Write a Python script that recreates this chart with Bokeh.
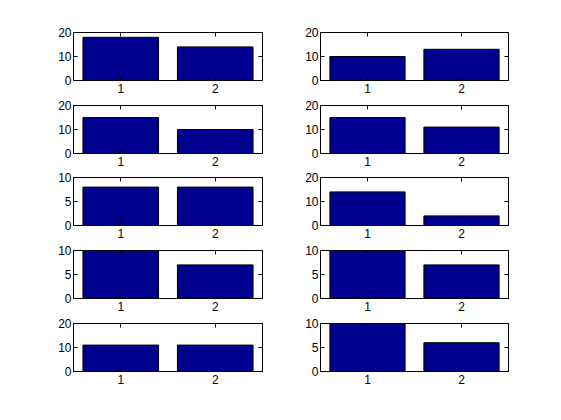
from bokeh.plotting import figure
from bokeh.layouts import gridplot
from bokeh.models import Range1d, FixedTicker, LinearAxis
from bokeh.embed import file_html
from bokeh.resources import INLINE

categories = [1, 2]
tick_labels = ["1", "2"]

row1_left = [18, 14]
row1_right = [10, 13]
row2_left = [15, 10]
row2_right = [15, 11]
row3_left = [8, 8]
row3_right = [14, 4]
row4_left = [10, 7]
row4_right = [10, 7]
row5_left = [11, 11]
row5_right = [10, 6]

ylim_left = [20, 20, 10, 10, 20]
ylim_right = [20, 20, 20, 10, 10]

panels = [
    [row1_left, row1_right],
    [row2_left, row2_right],
    [row3_left, row3_right],
    [row4_left, row4_right],
    [row5_left, row5_right],
]
ylims = [[a, b] for a, b in zip(ylim_left, ylim_right)]

BAR = "#00008F"
FONT = "Liberation Sans"
FS = "12px"

# layout geometry (figure heights and borders per row)
fig_heights = [97, 73, 73, 72, 105]
border_top = [32, 8, 7, 7, 8]
frame_h = 48
col_widths = [280, 281]
border_left = [73, 40]
frame_w = [189, 188]


def make_panel(vals, ymax, r, c):
    h = fig_heights[r]
    w = col_widths[c]
    p = figure(
        width=w, height=h, output_backend="svg", toolbar_location=None,
        x_range=Range1d(0.5, 2.5), y_range=Range1d(0, ymax),
        min_border_left=border_left[c], min_border_right=w - border_left[c] - frame_w[c],
        min_border_top=border_top[r], min_border_bottom=h - border_top[r] - frame_h,
        x_axis_location="below", y_axis_location="left",
        background_fill_color="white", border_fill_color="white",
    )
    p.vbar(x=categories, top=vals, width=0.8, bottom=0,
           fill_color=BAR, line_color="black", line_width=1)
    p.grid.visible = False
    p.outline_line_color = "black"
    p.outline_line_width = 1

    p.xaxis.ticker = FixedTicker(ticks=categories)
    p.xaxis.major_label_overrides = {k: s for k, s in zip(categories, tick_labels)}
    p.yaxis.ticker = FixedTicker(ticks=[0, ymax / 2, ymax])
    for ax in p.xaxis + p.yaxis:
        ax.major_tick_out = 0
        ax.major_tick_in = 4
        ax.minor_tick_out = 0
        ax.minor_tick_in = 0
        ax.axis_line_color = "black"
        ax.major_tick_line_color = "black"
        ax.major_label_text_font = FONT
        ax.major_label_text_font_size = FS
        ax.major_label_text_color = "black"
    p.xaxis.major_label_standoff = 3
    p.yaxis.major_label_standoff = 2

    top_ax = LinearAxis(ticker=FixedTicker(ticks=categories))
    right_ax = LinearAxis(ticker=FixedTicker(ticks=[0, ymax / 2, ymax]))
    for ax in (top_ax, right_ax):
        ax.major_tick_out = 0
        ax.major_tick_in = 4
        ax.minor_tick_out = 0
        ax.minor_tick_in = 0
        ax.major_label_text_font_size = "1px"
        ax.major_label_text_color = None
        ax.major_label_standoff = 0
        ax.axis_line_color = "black"
        ax.major_tick_line_color = "black"
    p.add_layout(top_ax, "above")
    p.add_layout(right_ax, "right")
    return p


grid = []
for r in range(5):
    row = []
    for c in range(2):
        row.append(make_panel(panels[r][c], ylims[r][c], r, c))
    grid.append(row)

p = gridplot(grid, toolbar_location=None)

open("out.html", "w").write(file_html(p, INLINE))
